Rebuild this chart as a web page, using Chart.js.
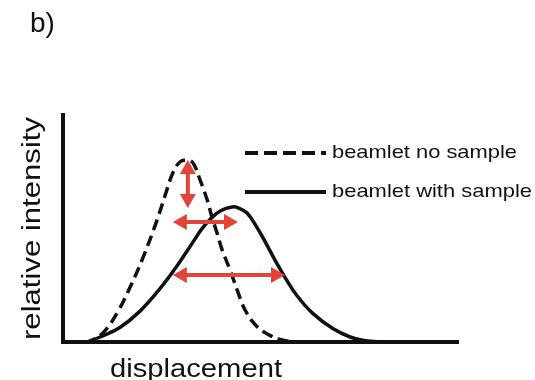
<!DOCTYPE html>
<html>
<head>
<meta charset="utf-8">
<script src="https://cdn.jsdelivr.net/npm/chart.js@4/dist/chart.umd.min.js"></script>
<style>
  html, body { margin: 0; padding: 0; background: #ffffff; }
  #wrap { width: 535px; height: 380px; position: relative; }
</style>
</head>
<body>
<div id="wrap"><canvas id="c" width="535" height="380"></canvas></div>
<script>
// Beamlet profiles (displacement on 0–100, relative intensity on 0–100)
const noSampleX   = [5.5, 6.8, 10.1, 13.7, 17.0, 20.3, 23.8, 26.3, 27.8, 29.6, 31.4, 32.9, 34.7, 36.5, 37.7, 39.0, 40.3, 42.3, 44.1, 46.1, 49.1, 52.4, 55.7, 58.7];
const noSampleY   = [0,   0.3, 4.0,  12.8, 24.2, 37.4, 53.7, 67.0, 74.5, 79.3, 80.2, 78.9, 71.4, 62.6, 55.1, 48.0, 40.5, 31.7, 22.9, 14.1, 6.8,  2.9,  0.8,  0];
const withSampleX = [5.5, 6.5, 9.4, 14.4, 19.5, 24.6, 28.9, 32.9, 35.0, 37.2, 39.9, 42.8, 44.5, 46.6, 49.1, 51.6, 53.7, 56.2, 59.2, 63.3, 68.4, 72.7, 75.9, 80.3];
const withSampleY = [0,   0.2, 2.2, 6.4,  13.6, 23.6, 33.6, 44.0, 49.5, 54.0, 57.8, 59.5, 59.0, 56.8, 50.5, 42.8, 36.0, 28.5, 20.5, 12.5, 5.8,  2.2,  0.8,  0];

const seriesLabels = ['beamlet no sample', 'beamlet with sample'];

// Double-headed arrows: peak drop, and the two widths
const arrowX0 = [31.6, 27.8, 27.8];
const arrowY0 = [80.2, 52.9, 29.5];
const arrowX1 = [31.6, 44.3, 56.2];
const arrowY1 = [59.0, 52.9, 29.5];

const panelTag = 'b)';
const xTitle = 'displacement';
const yTitle = 'relative intensity';

const FONT = '"Liberation Sans", Arial, Helvetica, sans-serif';
const INK = '#111111';
const RED = '#e2443a';

function toPoints(xs, ys) { return xs.map((x, i) => ({ x: x, y: ys[i] })); }

// Text drawn with a horizontal stretch so it fills a given width
function drawText(ctx, str, x, y, size, width, align, rot) {
  ctx.save();
  ctx.translate(x, y);
  if (rot) ctx.rotate(rot);
  ctx.font = size + 'px ' + FONT;
  const natural = ctx.measureText(str).width;
  const sx = width ? width / natural : 1;
  ctx.scale(sx, 1);
  ctx.fillStyle = INK;
  ctx.textAlign = align || 'left';
  ctx.textBaseline = 'alphabetic';
  ctx.fillText(str, 0, 0);
  ctx.restore();
}

function arrowHead(ctx, tx, ty, ux, uy, len, half) {
  ctx.beginPath();
  ctx.moveTo(tx, ty);
  ctx.lineTo(tx - ux * len - uy * half, ty - uy * len + ux * half);
  ctx.lineTo(tx - ux * len + uy * half, ty - uy * len - ux * half);
  ctx.closePath();
  ctx.fill();
}

const decorations = {
  id: 'decorations',
  afterDatasetsDraw(chart) {
    const ctx = chart.ctx;
    const xs = chart.scales.x, ys = chart.scales.y;
    ctx.save();
    ctx.strokeStyle = RED;
    ctx.fillStyle = RED;
    ctx.lineWidth = 4;
    for (let i = 0; i < arrowX0.length; i++) {
      const x0 = xs.getPixelForValue(arrowX0[i]), y0 = ys.getPixelForValue(arrowY0[i]);
      const x1 = xs.getPixelForValue(arrowX1[i]), y1 = ys.getPixelForValue(arrowY1[i]);
      const L = Math.hypot(x1 - x0, y1 - y0);
      const ux = (x1 - x0) / L, uy = (y1 - y0) / L;
      const len = 14, half = 8;
      ctx.beginPath();
      ctx.moveTo(x0 + ux * (len - 2), y0 + uy * (len - 2));
      ctx.lineTo(x1 - ux * (len - 2), y1 - uy * (len - 2));
      ctx.stroke();
      arrowHead(ctx, x1, y1, ux, uy, len, half);
      arrowHead(ctx, x0, y0, -ux, -uy, len, half);
    }
    ctx.restore();
  },
  afterDraw(chart) {
    const ctx = chart.ctx;
    const ds = chart.data.datasets;
    // panel tag and axis titles
    drawText(ctx, panelTag, 30, 32, 28, 0, 'left');
    drawText(ctx, xTitle, 110, 377, 26, 172, 'left');
    drawText(ctx, yTitle, 40, 228.5, 26, 223, 'center', -Math.PI / 2);
    // legend
    const rows = [
      { y: 153, textY: 158, width: 185 },
      { y: 192, textY: 197, width: 200 }
    ];
    rows.forEach((r, i) => {
      ctx.save();
      ctx.strokeStyle = INK;
      ctx.lineWidth = 4;
      ctx.setLineDash(i === 0 ? [13, 6] : []);
      ctx.beginPath();
      ctx.moveTo(245, r.y);
      ctx.lineTo(326, r.y);
      ctx.stroke();
      ctx.restore();
      drawText(ctx, ds[i].label, 332, r.textY, 19, r.width, 'left');
    });
  }
};

new Chart(document.getElementById('c'), {
  type: 'line',
  data: {
    datasets: [
      {
        label: seriesLabels[0],
        data: toPoints(noSampleX, noSampleY),
        borderColor: INK,
        borderWidth: 3.5,
        borderDash: [11, 6],
        pointRadius: 0,
        tension: 0.4,
        fill: false
      },
      {
        label: seriesLabels[1],
        data: toPoints(withSampleX, withSampleY),
        borderColor: INK,
        borderWidth: 3.5,
        pointRadius: 0,
        tension: 0.4,
        fill: false
      }
    ]
  },
  options: {
    responsive: false,
    animation: false,
    events: [],
    layout: { padding: { left: 63, right: 77, top: 115, bottom: 38 } },
    plugins: { legend: { display: false }, tooltip: { enabled: false } },
    scales: {
      x: {
        type: 'linear', min: 0, max: 100,
        grid: { display: false, drawTicks: false },
        ticks: { display: false },
        border: { display: true, color: INK, width: 4 }
      },
      y: {
        type: 'linear', min: 0, max: 100,
        grid: { display: false, drawTicks: false },
        ticks: { display: false },
        border: { display: true, color: INK, width: 4 }
      }
    }
  },
  plugins: [decorations]
});
</script>
</body>
</html>
